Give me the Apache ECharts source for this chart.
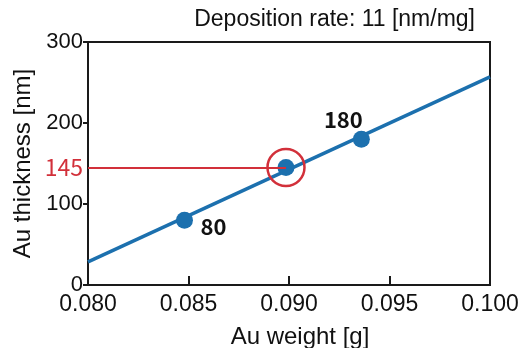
<!DOCTYPE html>
<html><head><meta charset="utf-8">
<script src="https://cdn.jsdelivr.net/npm/echarts@6/dist/echarts.min.js"></script>
<style>html,body{margin:0;padding:0;background:#fff}#c{width:520px;height:348px}</style>
</head><body><div id="c"></div>
<script>
// Data
var fitLineWeights = [0.080, 0.100];
var fitLineThickness = [28.5, 257];
var sampleWeights = [0.0848, 0.08985, 0.0936];
var sampleThickness = [80, 145, 180];
var sampleLabels = ['80', '', '180'];
var highlightIndex = 1;
var xTicks = ['0.080', '0.085', '0.090', '0.095', '0.100'];
var yTicks = [0, 100, 200, 300];
var titleText = 'Deposition rate: 11 [nm/mg]';
var xName = 'Au weight [g]';
var yName = 'Au thickness [nm]';

var BLUE = '#1c70ae', RED = '#d2303a';
var sansA = '"Liberation Sans", Arial, sans-serif';
var sansJ = '"Noto Sans CJK JP", "Noto Sans", sans-serif';
var labelOffsets = [[29, 6], [0, 0], [-18, -20]];

var chart = echarts.init(document.getElementById('c'));
var fitData = fitLineWeights.map(function (w, i) { return [w, fitLineThickness[i]]; });
var ptData = sampleWeights.map(function (w, i) {
  return {
    value: [w, sampleThickness[i]],
    label: { show: sampleLabels[i] !== '', formatter: sampleLabels[i], offset: labelOffsets[i] }
  };
});
var hx = sampleWeights[highlightIndex], hy = sampleThickness[highlightIndex];

chart.setOption({
  animation: false,
  title: {
    text: titleText, right: 40, top: 3,
    textStyle: { fontFamily: sansA, fontSize: 23, fontWeight: 'normal', color: '#111' }
  },
  grid: {
    left: 88, right: 30, top: 42, bottom: 63, containLabel: false, outerBoundsMode: 'none',
    show: true, borderColor: '#1a1a1a', borderWidth: 2, backgroundColor: 'transparent'
  },
  xAxis: {
    type: 'value', min: 0.08, max: 0.1, interval: 0.005,
    name: xName, nameLocation: 'middle', nameGap: 40,
    nameTextStyle: { fontFamily: sansA, fontSize: 24, color: '#111', padding: [0, 0, 0, 22] },
    axisLine: { lineStyle: { color: '#1a1a1a', width: 2 } },
    axisTick: { inside: true, length: 9, lineStyle: { color: '#1a1a1a', width: 2 } },
    splitLine: { show: false },
    axisLabel: {
      margin: 8, fontFamily: sansA, fontSize: 23, color: '#111',
      formatter: function (v) { var s = v.toFixed(3); return xTicks.indexOf(s) >= 0 ? s : ''; }
    }
  },
  yAxis: {
    type: 'value', min: 0, max: 300, interval: 100,
    name: yName, nameLocation: 'middle', nameGap: 53,
    nameTextStyle: { fontFamily: sansA, fontSize: 24, color: '#111' },
    axisLine: { show: true, lineStyle: { color: '#1a1a1a', width: 2 } },
    axisTick: { show: true, length: 5, lineStyle: { color: '#1a1a1a', width: 2 } },
    splitLine: { show: false },
    axisLabel: {
      margin: 5, fontFamily: sansA, fontSize: 22, color: '#111',
      formatter: function (v) { return yTicks.indexOf(v) >= 0 ? String(v) : ''; }
    }
  },
  series: [
    {
      type: 'line', data: fitData, showSymbol: false, symbol: 'none',
      lineStyle: { color: BLUE, width: 3.5 }, z: 2,
      markLine: {
        silent: true, symbol: ['none', 'none'],
        lineStyle: { color: RED, width: 2, type: 'solid' },
        label: {
          show: true, position: 'start', distance: 5, formatter: String(hy),
          color: RED, fontFamily: sansJ, fontSize: 23
        },
        data: [[{ coord: [0.08, hy] }, { coord: [hx, hy] }]]
      }
    },
    {
      type: 'scatter', data: ptData, symbol: 'circle', symbolSize: 17,
      itemStyle: { color: BLUE, opacity: 1 }, z: 3,
      label: { position: 'inside', color: '#111', fontFamily: sansJ, fontSize: 22, fontWeight: 'bold' }
    },
    {
      type: 'scatter', data: [[hx, hy]], symbol: 'circle', symbolSize: 37,
      itemStyle: { color: 'rgba(0,0,0,0)', borderColor: RED, borderWidth: 2.5, opacity: 1 }, z: 4
    }
  ]
});
</script></body></html>
